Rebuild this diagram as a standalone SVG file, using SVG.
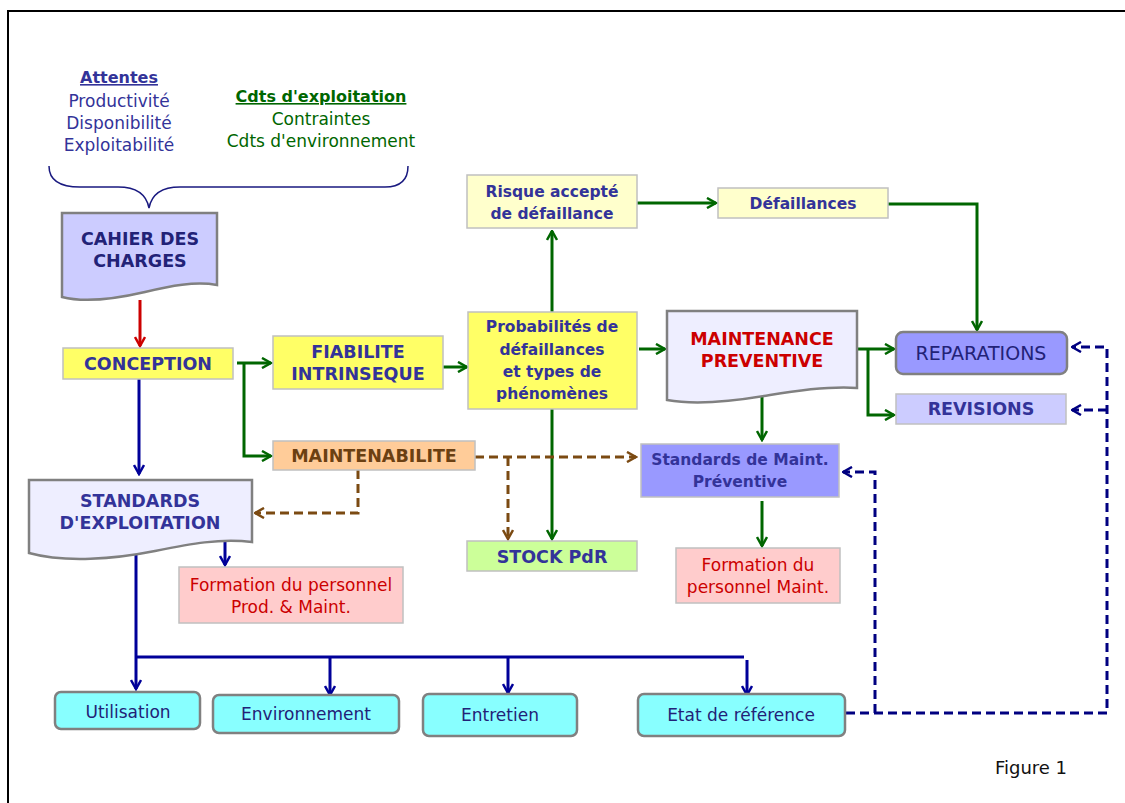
<svg xmlns="http://www.w3.org/2000/svg" width="1125" height="803" viewBox="0 0 1125 803">
<style>
text{font-family:"DejaVu Sans","Liberation Sans",sans-serif;text-anchor:middle}
.b{font-weight:bold}
.nv{fill:#333399}
.dk{fill:#222277}
.rd{fill:#cc0000}
.gr{fill:#006600}
.br{fill:#6b4012}
.cap{font-size:17.5px;font-weight:bold}
.mix{font-size:15.5px;font-weight:bold}
.reg{font-size:17px}
.box{stroke:#c0c0c0;stroke-width:1.5}
.doc{stroke:#808080;stroke-width:2.5}
.rnd{stroke:#808080;stroke-width:2.5}
.g{fill:none;stroke:#006600;stroke-width:3}
.bl{fill:none;stroke:#000099;stroke-width:3}
.r{fill:none;stroke:#cc0000;stroke-width:3}
.bw{fill:none;stroke:#7b4a12;stroke-width:3;stroke-dasharray:9,5}
.nd{fill:none;stroke:#000080;stroke-width:3;stroke-dasharray:9,5}
</style>
<defs>
<marker id="ag" viewBox="0 0 12 12" refX="10.5" refY="6" markerWidth="12" markerHeight="12" markerUnits="userSpaceOnUse" orient="auto"><path d="M1.5,1 L10.5,6 L1.5,11" fill="none" stroke="#006600" stroke-width="2.5"/></marker>
<marker id="ab" viewBox="0 0 12 12" refX="10.5" refY="6" markerWidth="12" markerHeight="12" markerUnits="userSpaceOnUse" orient="auto"><path d="M1.5,1 L10.5,6 L1.5,11" fill="none" stroke="#000099" stroke-width="2.5"/></marker>
<marker id="ar" viewBox="0 0 12 12" refX="10.5" refY="6" markerWidth="12" markerHeight="12" markerUnits="userSpaceOnUse" orient="auto"><path d="M1.5,1 L10.5,6 L1.5,11" fill="none" stroke="#cc0000" stroke-width="2.5"/></marker>
<marker id="aw" viewBox="0 0 12 12" refX="10.5" refY="6" markerWidth="12" markerHeight="12" markerUnits="userSpaceOnUse" orient="auto"><path d="M1.5,1 L10.5,6 L1.5,11" fill="none" stroke="#7b4a12" stroke-width="2.5" stroke-dasharray="none"/></marker>
<marker id="an" viewBox="0 0 12 12" refX="10.5" refY="6" markerWidth="12" markerHeight="12" markerUnits="userSpaceOnUse" orient="auto"><path d="M1.5,1 L10.5,6 L1.5,11" fill="none" stroke="#000080" stroke-width="2.5" stroke-dasharray="none"/></marker>
</defs>
<rect x="0" y="0" width="1125" height="803" fill="#ffffff"/>
<rect x="8" y="11" width="1130" height="800" fill="none" stroke="#000000" stroke-width="2"/>

<g id="header">
<text x="119" y="83" class="b nv" font-size="16" text-decoration="underline">Attentes</text>
<text x="119" y="107" class="reg nv" font-size="17.5">Productivité</text>
<text x="119" y="129" class="reg nv" font-size="17.5">Disponibilité</text>
<text x="119" y="151" class="reg nv" font-size="17.5">Exploitabilité</text>
<text x="321" y="102" class="b gr" font-size="16" text-decoration="underline">Cdts d'exploitation</text>
<text x="321" y="125" class="reg gr">Contraintes</text>
<text x="321" y="147" class="reg gr">Cdts d'environnement</text>
<path d="M49,166 Q49,187 80,187 L118,187 Q145,187 149,208 Q153,187 180,187 L385,187 Q408,187 408,166" fill="none" stroke="#1a1a80" stroke-width="1.5"/>
</g>

<g id="connectors">
<path class="r" d="M140,300 V346" marker-end="url(#ar)"/>
<path class="g" d="M237,363 H271" marker-end="url(#ag)"/>
<path class="g" d="M244,363 V456 H271" marker-end="url(#ag)"/>
<path class="g" d="M443,367 H467" marker-end="url(#ag)"/>
<path class="g" d="M552,312 V231" marker-end="url(#ag)"/>
<path class="g" d="M552,409 V539" marker-end="url(#ag)"/>
<path class="g" d="M637,203 H716" marker-end="url(#ag)"/>
<path class="g" d="M888,204 H977 V330" marker-end="url(#ag)"/>
<path class="g" d="M639,349 H665" marker-end="url(#ag)"/>
<path class="g" d="M857,349 H894" marker-end="url(#ag)"/>
<path class="g" d="M868,349 V415 H894" marker-end="url(#ag)"/>
<path class="g" d="M762,396 V440" marker-end="url(#ag)"/>
<path class="g" d="M762,501 V546" marker-end="url(#ag)"/>
<path class="bl" d="M139,379 V474" marker-end="url(#ab)"/>
<path class="bl" d="M225,542 V565" marker-end="url(#ab)"/>
<path class="bl" d="M136,555 V689" marker-end="url(#ab)"/>
<path class="bl" d="M136,657 H744"/>
<path class="bl" d="M747,660 V695" marker-end="url(#ab)"/>
<path class="bl" d="M330,657 V695" marker-end="url(#ab)"/>
<path class="bl" d="M508,657 V693" marker-end="url(#ab)"/>
<path class="bw" d="M475,457 H636" marker-end="url(#aw)"/>
<path class="bw" d="M508,457 V539" marker-end="url(#aw)"/>
<path class="bw" d="M358,470 V513 H255" marker-end="url(#aw)"/>
<path class="nd" d="M846,713 H1107 V347 H1072" marker-end="url(#an)"/>
<path class="nd" d="M1107,410 H1072" marker-end="url(#an)"/>
<path class="nd" d="M875,713 V472 H843" marker-end="url(#an)"/>
</g>

<g id="cahier">
<path class="doc" fill="#ccccff" d="M62,213 H217 V285 C195,281 170,286 145,292 C115,299 85,303 62,297 Z"/>
<text x="140" y="245" class="cap dk">CAHIER DES</text>
<text x="140" y="267" class="cap dk">CHARGES</text>
</g>
<g id="conception">
<rect class="box" x="63" y="348" width="170" height="31" fill="#ffff66"/>
<text x="148" y="370" class="cap nv">CONCEPTION</text>
</g>
<g id="fiabilite">
<rect class="box" x="273" y="336" width="170" height="53" fill="#ffff66"/>
<text x="358" y="358" class="cap nv">FIABILITE</text>
<text x="358" y="380" class="cap nv">INTRINSEQUE</text>
</g>
<g id="probabilites">
<rect class="box" x="468" y="312" width="169" height="97" fill="#ffff66"/>
<text x="552" y="332" class="mix nv">Probabilités de</text>
<text x="552" y="355" class="mix nv">défaillances</text>
<text x="552" y="377" class="mix nv">et types de</text>
<text x="552" y="399" class="mix nv">phénomènes</text>
</g>
<g id="maintenabilite">
<rect class="box" x="273" y="441" width="202" height="29" fill="#ffcc99"/>
<text x="374" y="462" class="cap br">MAINTENABILITE</text>
</g>
<g id="risque">
<rect class="box" x="467" y="175" width="170" height="53" fill="#ffffcc"/>
<text x="552" y="197" class="mix nv">Risque accepté</text>
<text x="552" y="219" class="mix nv">de défaillance</text>
</g>
<g id="defaillances">
<rect class="box" x="718" y="188" width="170" height="30" fill="#ffffcc"/>
<text x="803" y="209" class="mix nv">Défaillances</text>
</g>
<g id="maintenance-preventive">
<path class="doc" fill="#eeeeff" d="M667,311 H857 V388 C830,386 800,390 770,395 C730,402 695,405 667,400 Z"/>
<text x="762" y="345" class="cap rd">MAINTENANCE</text>
<text x="762" y="367" class="cap rd">PREVENTIVE</text>
</g>
<g id="reparations">
<rect class="rnd" x="896" y="332" width="171" height="42" rx="7" fill="#9999ff"/>
<text x="981" y="360" class="dk" font-size="19">REPARATIONS</text>
</g>
<g id="revisions">
<rect class="box" x="896" y="394" width="170" height="30" fill="#ccccff"/>
<text x="981" y="415" class="cap nv">REVISIONS</text>
</g>
<g id="standards-maint">
<rect class="box" x="641" y="444" width="198" height="53" fill="#9999ff"/>
<text x="740" y="465" class="mix nv">Standards de Maint.</text>
<text x="740" y="487" class="mix nv">Préventive</text>
</g>
<g id="stock">
<rect class="box" x="467" y="541" width="170" height="30" fill="#ccff99"/>
<text x="552" y="563" class="cap nv" font-size="17">STOCK PdR</text>
</g>
<g id="formation-maint">
<rect class="box" x="676" y="548" width="164" height="55" fill="#ffcccc"/>
<text x="758" y="571" class="reg rd">Formation du</text>
<text x="758" y="593" class="reg rd">personnel Maint.</text>
</g>
<g id="standards-exploitation">
<path class="doc" fill="#eeeeff" d="M29,480 H252 V542 C220,538 190,544 155,551 C115,559 65,563 29,553 Z"/>
<text x="140" y="507" class="cap nv">STANDARDS</text>
<text x="140" y="529" class="cap nv">D'EXPLOITATION</text>
</g>
<g id="formation-prod">
<rect class="box" x="179" y="567" width="224" height="56" fill="#ffcccc"/>
<text x="291" y="591" class="reg rd">Formation du personnel</text>
<text x="291" y="613" class="reg rd">Prod. &amp; Maint.</text>
</g>
<g id="utilisation">
<rect class="rnd" x="55" y="692" width="145" height="37" rx="6" fill="#88ffff"/>
<text x="128" y="718" class="reg dk">Utilisation</text>
</g>
<g id="environnement">
<rect class="rnd" x="213" y="695" width="186" height="38" rx="6" fill="#88ffff"/>
<text x="306" y="720" class="reg dk">Environnement</text>
</g>
<g id="entretien">
<rect class="rnd" x="423" y="694" width="154" height="42" rx="6" fill="#88ffff"/>
<text x="500" y="721" class="reg dk">Entretien</text>
</g>
<g id="etat">
<rect class="rnd" x="638" y="694" width="207" height="42" rx="6" fill="#88ffff"/>
<text x="741" y="721" class="reg dk">Etat de référence</text>
</g>
<text x="1031" y="774" font-size="18" fill="#111111">Figure 1</text>
</svg>
